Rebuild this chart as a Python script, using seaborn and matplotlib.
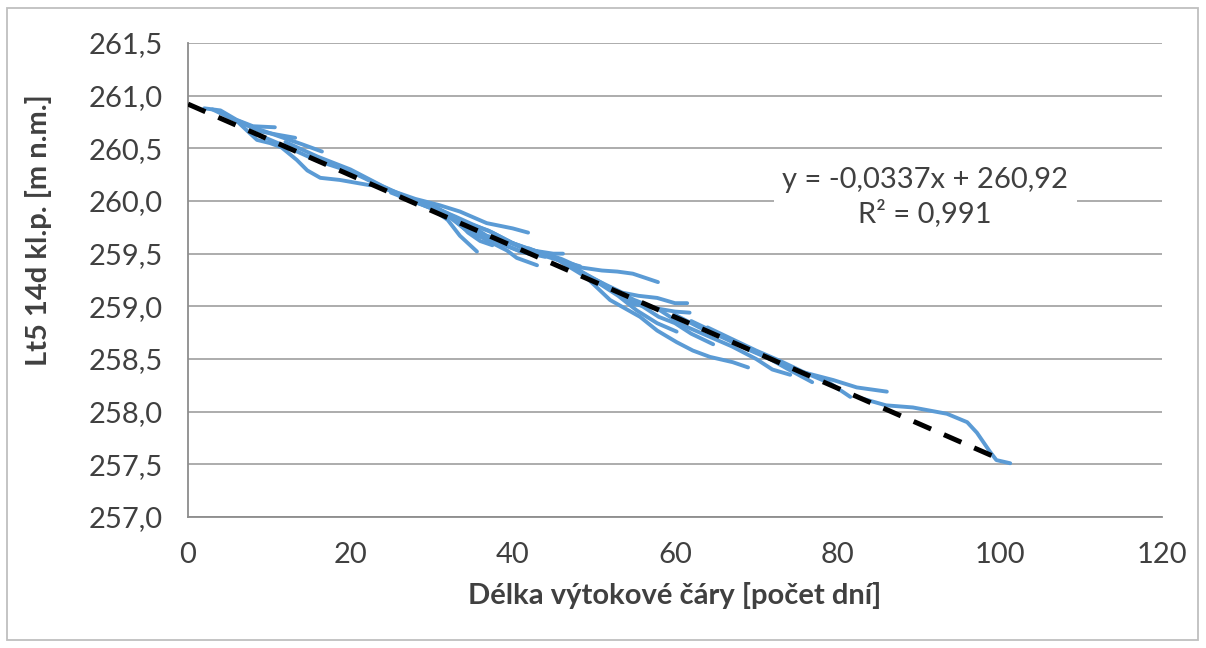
import matplotlib
matplotlib.use("Agg")
import matplotlib.pyplot as plt
import numpy as np
import pandas as pd
import seaborn as sns
from matplotlib.patches import Rectangle

# recession curves: day along the curve / water level [m n.m.]
c01_x = [2, 4, 6, 8, 10.7]
c01_y = [260.88, 260.86, 260.77, 260.71, 260.70]
c02_x = [3, 6, 9, 11, 13.2]
c02_y = [260.87, 260.76, 260.66, 260.63, 260.60]
c03_x = [5, 8, 11, 14, 16.5]
c03_y = [260.80, 260.70, 260.62, 260.54, 260.47]
c04_x = [6, 8.5, 10.1, 11.5, 13.4, 14.7, 16.3, 18.7, 22.4]
c04_y = [260.76, 260.58, 260.55, 260.51, 260.39, 260.29, 260.22, 260.20, 260.15]
c05_x = [8, 12, 16, 20, 23, 26, 29]
c05_y = [260.65, 260.52, 260.38, 260.28, 260.17, 260.06, 259.97]
c06_x = [12, 16, 20, 24, 28, 31]
c06_y = [260.56, 260.42, 260.30, 260.14, 260.00, 259.92]
c07_x = [22, 25, 28, 31, 33.5, 36.8, 40, 41.9]
c07_y = [260.21, 260.10, 260.02, 259.96, 259.90, 259.79, 259.74, 259.70]
c08_x = [24, 27, 30, 32, 33.5, 35.6]
c08_y = [260.13, 260.02, 259.93, 259.82, 259.67, 259.52]
c09_x = [25, 28, 31, 33, 35, 37, 39.3, 40.5, 43]
c09_y = [260.08, 259.99, 259.90, 259.82, 259.71, 259.62, 259.53, 259.46, 259.39]
c10_x = [26, 29, 32, 34, 36, 38]
c10_y = [260.05, 259.97, 259.86, 259.74, 259.66, 259.63]
c11_x = [27, 30, 33, 35, 37.5, 40, 42.5, 45, 46.2]
c11_y = [260.02, 259.95, 259.85, 259.78, 259.70, 259.60, 259.53, 259.50, 259.50]
c12_x = [28, 31, 34, 37, 40, 43, 46, 48.3]
c12_y = [260.00, 259.90, 259.80, 259.72, 259.60, 259.50, 259.43, 259.38]
c13_x = [29, 32, 34, 36, 38, 40]
c13_y = [259.98, 259.88, 259.74, 259.68, 259.65, 259.60]
c14_x = [30, 33, 35, 38, 41, 44]
c14_y = [259.96, 259.84, 259.72, 259.62, 259.52, 259.47]
c15_x = [38, 41, 44, 46, 48.3, 51, 52.9, 54.8, 57.9]
c15_y = [259.66, 259.56, 259.50, 259.45, 259.37, 259.34, 259.33, 259.31, 259.23]
c16_x = [40, 43, 46, 49, 51.6, 53.5, 55.5, 57.8, 60, 61.5]
c16_y = [259.60, 259.52, 259.43, 259.30, 259.20, 259.13, 259.10, 259.08, 259.03, 259.03]
c17_x = [42, 45, 48, 51, 53, 55, 57, 60, 61.8]
c17_y = [259.55, 259.46, 259.35, 259.22, 259.12, 259.02, 258.99, 258.95, 258.94]
c18_x = [46, 49, 52, 55.7, 57.8, 60.2, 62.2, 64.3, 67.1, 69]
c18_y = [259.42, 259.28, 259.06, 258.90, 258.77, 258.66, 258.58, 258.52, 258.47, 258.42]
c19_x = [47, 50, 53, 55.3, 57.8, 60.2]
c19_y = [259.40, 259.25, 259.10, 258.96, 258.84, 258.76]
c20_x = [50, 53, 56, 58, 60, 62, 64.7]
c20_y = [259.24, 259.14, 259.00, 258.90, 258.84, 258.74, 258.64]
c21_x = [52, 55, 58, 61, 64, 67, 70, 72, 74.2]
c21_y = [259.18, 259.06, 258.97, 258.82, 258.72, 258.62, 258.50, 258.40, 258.35]
c22_x = [60, 63, 66, 69, 72, 75, 77, 79.5, 82.4, 86.1]
c22_y = [258.92, 258.80, 258.70, 258.59, 258.49, 258.39, 258.35, 258.30, 258.23, 258.19]
c23_x = [62, 65, 68, 71, 74, 76.9]
c23_y = [258.86, 258.75, 258.63, 258.53, 258.40, 258.28]
c24_x = [64, 67, 70, 73, 76, 79.1, 81.6]
c24_y = [258.80, 258.69, 258.58, 258.48, 258.37, 258.27, 258.14]
c25_x = [82.8, 86, 89.3, 93.5, 96, 97.2, 98.8, 99.6, 101.3]
c25_y = [258.13, 258.06, 258.04, 257.98, 257.90, 257.80, 257.62, 257.54, 257.51]
c26_x = [31, 33, 34.5, 36, 37.5]
c26_y = [259.92, 259.82, 259.70, 259.62, 259.58]
c27_x = [33, 35, 37, 39, 41, 43]
c27_y = [259.84, 259.76, 259.66, 259.58, 259.52, 259.48]

# linear trend (Excel)
trend_slope = -0.0337
trend_icpt = 260.92
trend_x = [0, 99]

x_ticks = [0, 20, 40, 60, 80, 100, 120]
y_ticks = [257.0, 257.5, 258.0, 258.5, 259.0, 259.5, 260.0, 260.5, 261.0, 261.5]

BLUE = "#5B9BD5"
TXT = "#404040"
GRID = "#a6a6a6"


def main():
    curves = [
        (c01_x, c01_y), (c02_x, c02_y), (c03_x, c03_y), (c04_x, c04_y),
        (c05_x, c05_y), (c06_x, c06_y), (c07_x, c07_y), (c08_x, c08_y),
        (c09_x, c09_y), (c10_x, c10_y), (c11_x, c11_y), (c12_x, c12_y),
        (c13_x, c13_y), (c14_x, c14_y), (c15_x, c15_y), (c16_x, c16_y),
        (c17_x, c17_y), (c18_x, c18_y), (c19_x, c19_y), (c20_x, c20_y),
        (c21_x, c21_y), (c22_x, c22_y), (c23_x, c23_y), (c24_x, c24_y),
        (c25_x, c25_y), (c26_x, c26_y), (c27_x, c27_y),
    ]
    rows = []
    for i, (xs, ys) in enumerate(curves):
        for x, y in zip(xs, ys):
            rows.append({"curve": i, "day": x, "level": y})
    df = pd.DataFrame(rows)

    sns.set_style("white")
    plt.rcParams["font.family"] = ["Lato", "DejaVu Sans"]

    fig, ax = plt.subplots(figsize=(12.06, 6.48), dpi=100)
    fig.subplots_adjust(left=0.1559, right=0.9635, top=0.9336, bottom=0.2022)

    sns.lineplot(
        data=df, x="day", y="level", units="curve", estimator=None,
        sort=False, color=BLUE, lw=2.8, legend=False, ax=ax,
        solid_capstyle="round", solid_joinstyle="round",
    )

    tx = np.array(trend_x, dtype=float)
    ax.plot(tx, trend_icpt + trend_slope * tx, color="black", lw=3.6,
            dashes=(3.8, 2.8), zorder=5)

    ax.set_xlim(0, 120)
    ax.set_ylim(257.0, 261.5)
    ax.set_xticks(x_ticks)
    ax.set_xticklabels([str(v) for v in x_ticks])
    ax.set_yticks(y_ticks)
    ax.set_yticklabels([f"{v:.1f}".replace(".", ",") for v in y_ticks])

    ax.yaxis.grid(True, color=GRID, lw=1.3)
    ax.xaxis.grid(False)
    ax.set_axisbelow(True)
    for s in ["top", "right"]:
        ax.spines[s].set_visible(False)
    for s in ["left", "bottom"]:
        ax.spines[s].set_color("#8c8c8c")
        ax.spines[s].set_linewidth(1.3)

    ax.tick_params(axis="both", direction="out", length=6, width=1.2,
                   color="#8c8c8c", labelsize=21, labelcolor=TXT)
    ax.tick_params(axis="y", pad=12)
    ax.tick_params(axis="x", pad=12)

    ax.set_xlabel("Délka výtokové čáry [počet dní]", fontsize=21,
                  fontweight="bold", color=TXT, labelpad=10)
    ax.set_ylabel("Lt5 14d kl.p. [m n.m.]", fontsize=21,
                  fontweight="bold", color=TXT)
    ax.yaxis.set_label_coords(-0.1396, 0.605)

    ax.text(0.757, 0.675, "y = -0,0337x + 260,92\nR² = 0,991",
            transform=ax.transAxes, ha="center", va="center", fontsize=21,
            color=TXT, linespacing=1.3, zorder=6,
            bbox=dict(facecolor="white", edgecolor="none", pad=6))

    fig.add_artist(Rectangle((7 / 1206, 8 / 648), 1191 / 1206, 632 / 648,
                             transform=fig.transFigure, fill=False,
                             edgecolor="#bfbfbf", lw=1.3))

    fig.savefig("out.png", dpi=100)


if __name__ == "__main__":
    main()
